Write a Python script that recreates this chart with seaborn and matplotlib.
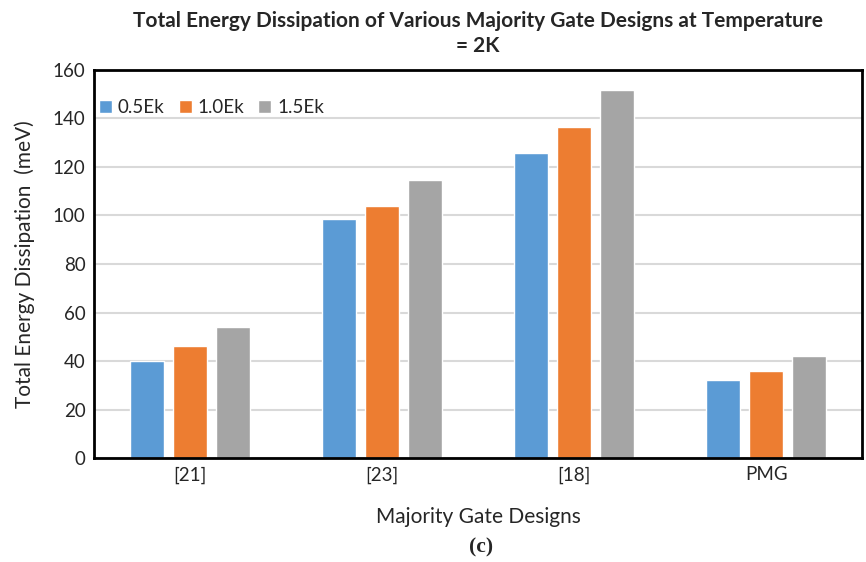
import numpy as np
import pandas as pd
import matplotlib
matplotlib.use('Agg')
import matplotlib.pyplot as plt
import seaborn as sns

# 데이터
designs = ['[21]', '[23]', '[18]', 'PMG']
series = ['0.5Ek', '1.0Ek', '1.5Ek']
e_05 = [40, 98.6, 125.8, 32]
e_10 = [46.2, 104, 136.5, 36]
e_15 = [54, 114.6, 151.8, 41.9]
colors = ['#5B9BD5', '#ED7D31', '#A5A5A5']

df = pd.DataFrame({
    'design': designs * 3,
    'series': [s for s in series for _ in designs],
    'value': e_05 + e_10 + e_15,
})

sns.set_style('white')
plt.rcParams['font.family'] = ['Lato', 'DejaVu Sans']

fig = plt.figure(figsize=(8.66, 5.62), dpi=100)
ax = fig.add_axes([0.1085, 0.185, 0.887, 0.6905])

sns.barplot(data=df, x='design', y='value', hue='series', palette=colors,
            width=0.67, gap=0.2, ax=ax, saturation=1, errorbar=None)

ax.set_ylim(0, 160)
ax.set_yticks(np.arange(0, 161, 20))
ax.set_xlim(-0.5, 3.5)
ax.yaxis.grid(True, color='#D9D9D9', linewidth=1.5)
ax.set_axisbelow(True)
for sp in ax.spines.values():
    sp.set_visible(True)
    sp.set_color('black')
    sp.set_linewidth(2)
ax.tick_params(axis='both', labelsize=13.5, length=0, pad=6)

ax.set_xlabel('Majority Gate Designs', fontsize=15, labelpad=17)
ax.set_ylabel('Total Energy Dissipation  (meV)', fontsize=15, labelpad=13)
ax.set_title('Total Energy Dissipation of Various Majority Gate Designs at Temperature\n= 2K',
             fontsize=15, fontweight='bold', pad=13, linespacing=1.3)

ax.legend(loc='upper left', bbox_to_anchor=(-0.003, 0.945), ncol=3, frameon=False,
          fontsize=13.5, handlelength=0.7, handleheight=0.7, handletextpad=0.3,
          columnspacing=0.75, borderaxespad=0)

fig.text(0.555, 0.025, '(c)', ha='center', va='center', fontsize=15.5,
         fontweight='bold', family='Liberation Serif')

fig.savefig('out.png', dpi=100)
